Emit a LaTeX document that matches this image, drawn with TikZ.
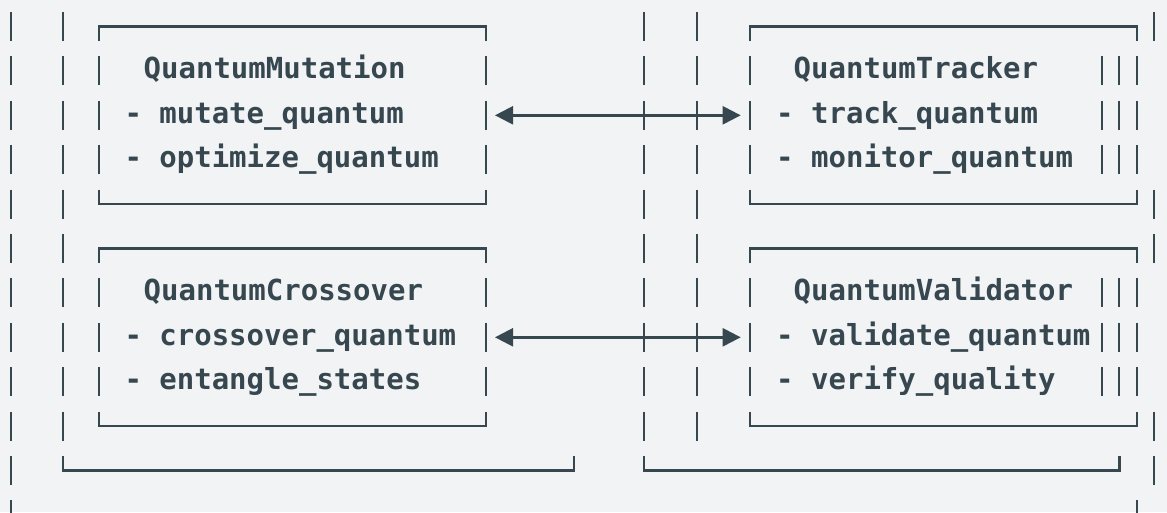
\documentclass[tikz,border=0pt]{standalone}
\usepackage{fontspec}
\newfontfamily\codefont{DejaVu Sans Mono}
\usetikzlibrary{arrows.meta}
\definecolor{ink}{HTML}{37474F}
\definecolor{bg}{HTML}{F1F3F5}
\tikzset{
  glyph/.style={draw=ink, line width=2.4pt},
  code/.style={anchor=base west, inner sep=0pt, text=ink,
    font=\codefont\bfseries\fontsize{29}{29}\selectfont},
  link/.style={glyph, {Triangle[length=18pt,width=18pt]}-{Triangle[length=18pt,width=18pt]}},
}
% vertical glyph of one text row: x, row index
\newcommand\glyphbar[2]{\draw[glyph] ({#1},{26.5+44.4*(#2)-14.5}) -- ({#1},{26.5+44.4*(#2)+14.5});}
% ascii box frame: x left, x right, top row, bottom row
\newcommand\asciiframe[4]{%
  \draw[glyph] ({#1},{26.5+44.4*(#3)+14.5}) -- ({#1},{26.5+44.4*(#3)}) -- ({#2},{26.5+44.4*(#3)}) -- ({#2},{26.5+44.4*(#3)+14.5});
  \draw[glyph] ({#1},{26.5+44.4*(#4)-14.5}) -- ({#1},{26.5+44.4*(#4)}) -- ({#2},{26.5+44.4*(#4)}) -- ({#2},{26.5+44.4*(#4)-14.5});}
\begin{document}
\begin{tikzpicture}[x=1pt,y=-1pt]
\fill[bg] (0,0) rectangle (1167,512);
\useasboundingbox (0,0) rectangle (1167,512);
\clip (0,0) rectangle (1167,512);
% outer left rails
\foreach \k in {0,...,11} {\glyphbar{11}{\k}}
\foreach \k in {0,...,9} {\glyphbar{63}{\k}\glyphbar{644}{\k}\glyphbar{697}{\k}}
% box sides and right-hand rails
\foreach \k in {1,2,3,6,7,8} {\glyphbar{99}{\k}\glyphbar{485.7}{\k}\glyphbar{749.7}{\k}\glyphbar{1101.7}{\k}\glyphbar{1119}{\k}\glyphbar{1136.7}{\k}}
\foreach \k in {0,4,5,9,10} {\glyphbar{1154}{\k}}
\glyphbar{1136.7}{11}
% box frames
\asciiframe{99}{485.7}{0}{4}
\asciiframe{749.7}{1136.7}{0}{4}
\asciiframe{99}{485.7}{5}{9}
\asciiframe{749.7}{1136.7}{5}{9}
% group bottoms
\draw[glyph] (63,456) -- (63,470.5) -- (574,470.5) -- (574,456);
\draw[glyph] (644,456) -- (644,470.5) -- (1119.3,470.5) -- (1119.3,456);
% texts
\node[code] (mutT) at (143.5,78.9) {QuantumMutation};
\node[code] (mutA) at (124.3,123.3) {- mutate\_quantum};
\node[code] (mutB) at (124.3,167.7) {- optimize\_quantum};
\node[code] (trkT) at (793.5,78.9) {QuantumTracker};
\node[code] (trkA) at (776,123.3) {- track\_quantum};
\node[code] (trkB) at (776,167.7) {- monitor\_quantum};
\node[code] (crsT) at (143.5,300.9) {QuantumCrossover};
\node[code] (crsA) at (124.3,345.3) {- crossover\_quantum};
\node[code] (crsB) at (124.3,389.7) {- entangle\_states};
\node[code] (valT) at (793.5,300.9) {QuantumValidator};
\node[code] (valA) at (776,345.3) {- validate\_quantum};
\node[code] (valB) at (776,389.7) {- verify\_quality};
% connectors
\coordinate (mutR) at (495,115.3);
\coordinate (trkL) at (740.7,115.3);
\coordinate (crsR) at (495,337.3);
\coordinate (valL) at (740.7,337.3);
\draw[link] (mutR) -- (trkL);
\draw[link] (crsR) -- (valL);
\end{tikzpicture}
\end{document}
